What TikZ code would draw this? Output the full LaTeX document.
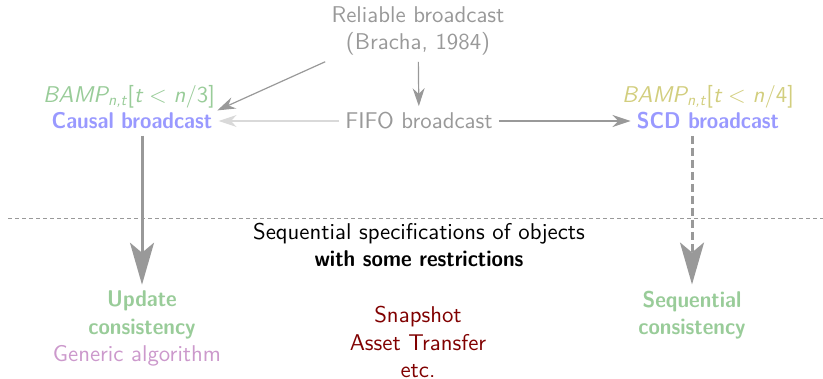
\documentclass[tikz,border=0pt]{standalone}
\usepackage{fontspec}
\setsansfont{lmsans10-regular.otf}[BoldFont=lmsans10-bold.otf, ItalicFont=lmsans10-oblique.otf, BoldItalicFont=lmsans10-boldoblique.otf, BoldFeatures={FakeStretch=0.91}]
\usetikzlibrary{arrows.meta,positioning,calc}
\colorlet{softgray}{black!40}
\colorlet{softblue}{blue!40}
\colorlet{softgreen}{green!50!black!40}
\colorlet{softolive}{olive!40}
\colorlet{softviolet}{violet!40}
\colorlet{objred}{red!50!black}
\newcommand{\bamp}[1]{{\itshape BAMP}\textsubscript{\itshape n,t}[{\itshape t}\hspace{0.3em}\textless\hspace{0.3em}{\itshape n}/#1]}

\begin{document}
\begin{tikzpicture}[x=0.5pt, y=-0.5pt,
  lbl/.style={align=center, inner sep=3pt, font=\sffamily\fontsize{11.4pt}{13.6pt}\selectfont},
  algo/.style={lbl, font=\sffamily\bfseries\fontsize{11.4pt}{13.6pt}\selectfont, text=softblue},
  cons/.style={lbl, font=\sffamily\bfseries\fontsize{11.4pt}{13.6pt}\selectfont, text=softgreen},
  arr/.style={-{Stealth[length=9pt, width=6pt]}, line width=0.6pt, draw=softgray},
  bigarr/.style={-{Stealth[length=21pt, width=12pt, inset=5pt]}, line width=1.5pt, draw=softgray}]
\useasboundingbox (0,0) rectangle (823,379);
% broadcast abstractions
\node[lbl, text=softgray] (rel) at (418,31) {Reliable broadcast\\(Bracha, 1984)};
\node[lbl, text=softgray] (fifo) at (419,121) {FIFO broadcast};
\node[algo] (causal) at (132,121) {Causal broadcast};
\node[lbl, text=softgreen, inner sep=1pt, above=-2pt of causal, xshift=-1.5pt] (bampL) {\bamp{3}};
\node[algo] (scd) at (708,121) {SCD broadcast};
\node[lbl, text=softolive, inner sep=1pt, above=-2pt of scd] (bampR) {\bamp{4}};
% objects
\draw[softgray, line width=0.5pt, dash pattern=on 2pt off 1.5pt] (8,218) -- (823,218);
\node[lbl] (spec) at (419,245) {Sequential specifications of objects\\\textbf{with some restrictions}};
\node[cons] (upd) at (142,315) {Update\\consistency};
\node[lbl, text=softviolet, below=-3pt of upd, xshift=-2.5pt] (gen) {Generic algorithm};
\node[lbl, text=objred] (objs) at (418,342) {Snapshot\\Asset Transfer\\etc.};
\node[cons] (seqc) at (692,315) {Sequential\\consistency};
% arrows
\draw[arr] (rel.south west) -- (bampL.south east);
\draw[arr] (rel) -- (fifo);
\draw[arr, draw=black!15] (fifo) -- (causal);
\draw[arr] (fifo) -- (scd);
\draw[bigarr] (causal.south -| upd.north) -- (upd.north);
\draw[bigarr, dash pattern=on 4pt off 2pt] (scd.south -| seqc.north) -- (seqc.north);
\end{tikzpicture}
\end{document}
